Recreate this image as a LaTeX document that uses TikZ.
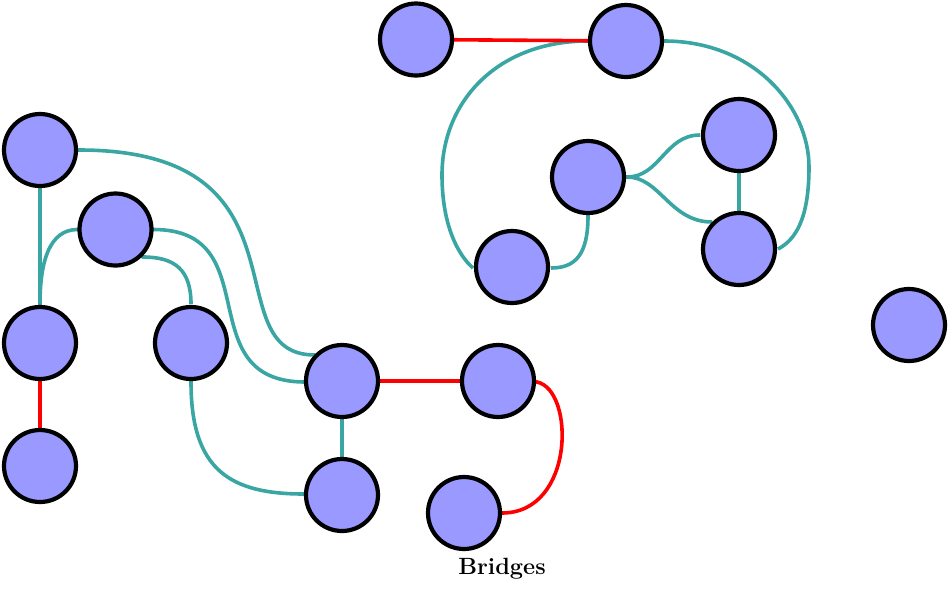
\documentclass[tikz,border=0pt]{standalone}
\usetikzlibrary{calc}
\definecolor{vfill}{RGB}{153,153,255}
\definecolor{tealedge}{RGB}{58,166,164}
\definecolor{bridgered}{RGB}{255,0,0}
\tikzset{
  vert/.style={circle, draw=black, fill=vfill, line width=4.2pt, minimum size=72pt, inner sep=0pt},
  tedge/.style={draw=tealedge, line width=3.6pt},
  bedge/.style={draw=bridgered, line width=3.6pt},
}
\begin{document}
\begin{tikzpicture}[x=1pt,y=-1pt]
\useasboundingbox (0,0) rectangle (950,590);
\coordinate (A) at (416,39.5);
\coordinate (B) at (626,41);
\coordinate (C) at (40,150);
\coordinate (D) at (739,135);
\coordinate (E) at (588,177);
\coordinate (F) at (115.5,229.5);
\coordinate (G) at (739,249);
\coordinate (H) at (512,267);
\coordinate (I) at (40,343);
\coordinate (J) at (191,343);
\coordinate (K) at (909,325);
\coordinate (L) at (342,381);
\coordinate (M) at (498,381);
\coordinate (N) at (40,466);
\coordinate (O) at (342,495);
\coordinate (P) at (464,513);
\coordinate (bh) at (442,175);
\coordinate (bg) at (809,167);

% edges (behind nodes)
\path[tedge] (B) -- ++(-38,0) .. controls (498,41) and (442,101) .. (bh)
   .. controls (442,225) and (458,255) .. ($(H)+(-39,1)$);
\path[tedge] (B) -- ++(38,0) .. controls (754,41) and (809,107) .. (bg)
   .. controls (809,220) and (795,240) .. ($(G)+(39,0)$);
\path[tedge] (E) -- ++(0,39) .. controls (588,255) and (575,268) .. ($(H)+(39,1)$);
\path[tedge] (E) -- ++(39,0) .. controls (660,177) and (665,135) .. ($(D)+(-39,0)$);
\path[tedge] (E) -- ++(39,0) .. controls (660,177) and (670,222) .. ($(G)+(-27,-27)$);
\path[tedge] (D) -- (G);
\path[tedge] (C) -- (I);
\path[tedge] (C) -- ++(39,0) .. controls (319,150) and (211,355) .. ($(L)+(-27,-26)$);
\path[tedge] (F) -- ++(38.5,0) .. controls (269,230) and (188,381) .. ($(L)+(-38,1)$);
\path[tedge] (F) -- ++(27.5,27.5) .. controls (175,257) and (191,270) .. ($(J)+(0,-39)$);
\path[tedge] (F) -- ++(-38.5,0) .. controls (50,230) and (40,260) .. ($(I)+(0,-39)$);
\path[tedge] (J) -- ++(0,39) .. controls (191,470) and (230,494) .. ($(O)+(-38,-1)$);
\path[tedge] (L) -- (O);
\path[bedge] (A) -- (B);
\path[bedge] (L) -- (M);
\path[bedge] (I) -- (N);
\path[bedge] (M) -- ++(39,1) .. controls (575,390) and (575,513) .. ($(P)+(38,0)$);

% nodes
\foreach \n in {A,B,C,D,E,F,G,H,I,J,K,L,M,N,O,P}
  \node[vert] (n\n) at (\n) {};

\node (title) at (502,569) {\fontsize{23.5}{27}\selectfont\bfseries Bridges};
\end{tikzpicture}
\end{document}
